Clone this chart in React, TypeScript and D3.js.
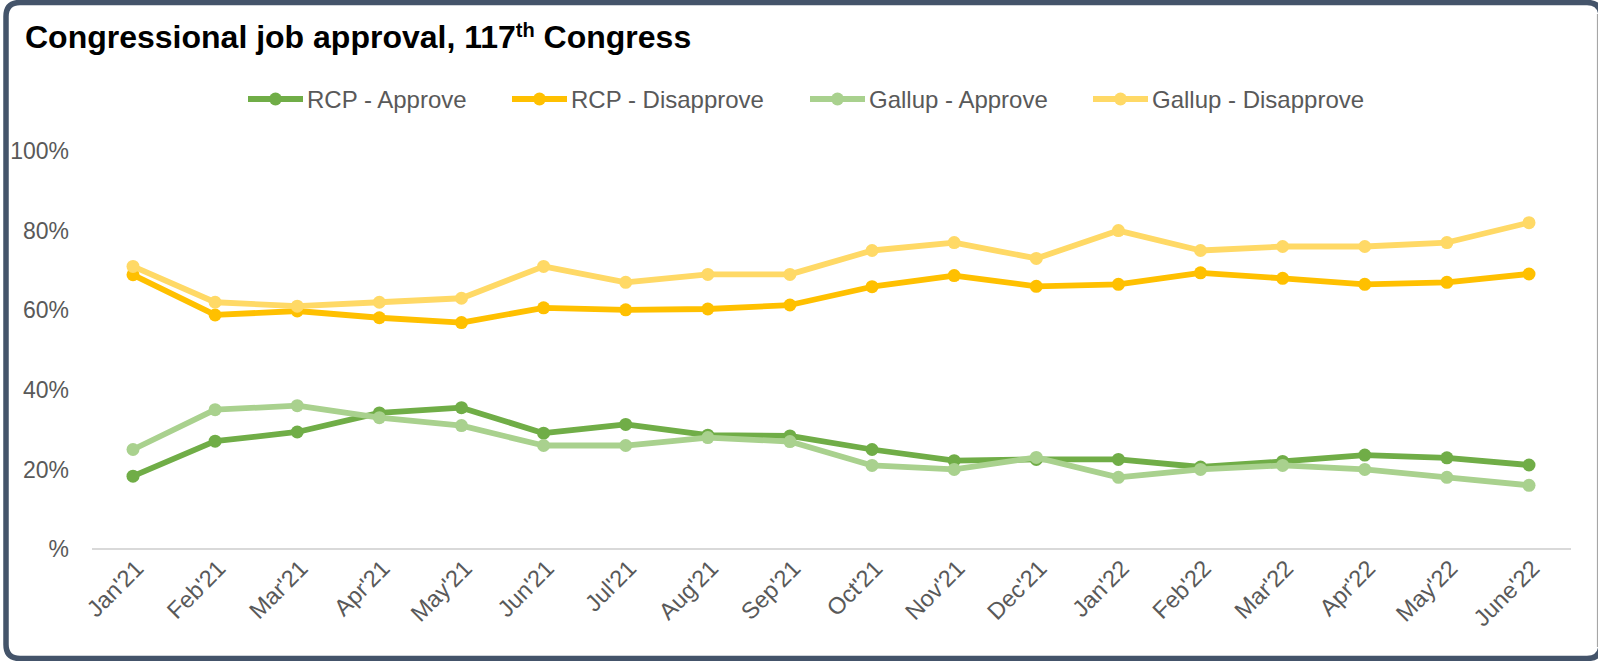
import React from "react";
import * as d3 from "d3";

const months = ["Jan'21", "Feb'21", "Mar'21", "Apr'21", "May'21", "Jun'21", "Jul'21", "Aug'21", "Sep'21",
  "Oct'21", "Nov'21", "Dec'21", "Jan'22", "Feb'22", "Mar'22", "Apr'22", "May'22", "June'22"];
const rcpApprove = [18.3, 27.1, 29.4, 34.2, 35.5, 29.1, 31.3, 28.6, 28.4, 25.0, 22.2, 22.5, 22.5, 20.6, 22.0, 23.6, 22.9, 21.1];
const rcpDisapprove = [68.9, 58.8, 59.8, 58.1, 56.9, 60.6, 60.1, 60.3, 61.3, 65.9, 68.7, 66.0, 66.5, 69.4, 68.0, 66.5, 67.0, 69.1];
const gallupApprove = [25, 35, 36, 33, 31, 26, 26, 28, 27, 21, 20, 23, 18, 20, 21, 20, 18, 16];
const gallupDisapprove = [71, 62, 61, 62, 63, 71, 67, 69, 69, 75, 77, 73, 80, 75, 76, 76, 77, 82];
const yTicks = [0, 20, 40, 60, 80, 100];

interface Series { name: string; color: string; values: number[] }
const series: Series[] = [
  { name: "RCP - Approve", color: "#70AD47", values: rcpApprove },
  { name: "RCP - Disapprove", color: "#FFC000", values: rcpDisapprove },
  { name: "Gallup - Approve", color: "#A9D18E", values: gallupApprove },
  { name: "Gallup - Disapprove", color: "#FFD966", values: gallupDisapprove },
];

const W = 1598;
const H = 661;
const FONT = "'Liberation Sans', Arial, sans-serif";

const App = () => {
  const svgRef = React.useRef<SVGSVGElement>(null);

  React.useEffect(() => {
    const svg = d3.select(svgRef.current);
    svg.selectAll("*").remove();

    // card border: heavy on top/left/bottom, thin on the right
    const r = 14, x0 = 6, y0 = 2.5, x1 = 1601, y1 = 658.5;
    svg.append("path")
      .attr("d", `M${x0 + r},${y0} H${x1 - r} Q${x1},${y0} ${x1},${y0 + r} V${y1 - r} Q${x1},${y1} ${x1 - r},${y1} H${x0 + r} Q${x0},${y1} ${x0},${y1 - r} V${y0 + r} Q${x0},${y0} ${x0 + r},${y0} Z`)
      .attr("fill", "#fff")
      .attr("stroke", "#44546A")
      .attr("stroke-width", 5.5);
    svg.append("line")
      .attr("x1", 1597.5).attr("x2", 1597.5).attr("y1", 14).attr("y2", 647)
      .attr("stroke", "#A6A6A6").attr("stroke-width", 1.2);

    // title
    const title = svg.append("text")
      .attr("x", 25).attr("y", 48)
      .attr("font-family", FONT).attr("font-size", 32).attr("font-weight", "bold")
      .attr("fill", "#000");
    title.append("tspan").text("Congressional job approval, 117");
    title.append("tspan").attr("font-size", 20).attr("dy", -11).text("th");
    title.append("tspan").attr("dy", 11).text(" Congress");

    const xScale = d3.scalePoint<string>().domain(months).range([133, 1529]);
    const yScale = d3.scaleLinear().domain([0, 100]).range([549, 151]);

    // baseline
    svg.append("line")
      .attr("x1", 92).attr("x2", 1571)
      .attr("y1", yScale(0)).attr("y2", yScale(0))
      .attr("stroke", "#D9D9D9").attr("stroke-width", 2);

    // y labels
    svg.append("g").selectAll("text")
      .data(yTicks)
      .enter()
      .append("text")
      .attr("x", 69)
      .attr("y", (d) => yScale(d))
      .attr("dy", "0.36em")
      .attr("text-anchor", "end")
      .attr("font-family", FONT).attr("font-size", 23).attr("fill", "#595959")
      .text((d) => (d === 0 ? "%" : `${d}%`));

    // x labels
    svg.append("g").selectAll("text")
      .data(months)
      .enter()
      .append("text")
      .attr("transform", (d) => `translate(${(xScale(d) as number) + 12},${yScale(0) + 21}) rotate(-45)`)
      .attr("text-anchor", "end")
      .attr("font-family", FONT).attr("font-size", 23.5).attr("fill", "#595959")
      .text((d) => d);

    // lines and markers
    const line = d3.line<number>()
      .x((d, i) => xScale(months[i]) as number)
      .y((d) => yScale(d));
    series.forEach((s) => {
      const g = svg.append("g");
      g.append("path")
        .attr("d", line(s.values))
        .attr("fill", "none")
        .attr("stroke", s.color)
        .attr("stroke-width", 5.8)
        .attr("stroke-linejoin", "round");
      g.selectAll("circle")
        .data(s.values)
        .enter()
        .append("circle")
        .attr("cx", (d, i) => xScale(months[i]) as number)
        .attr("cy", (d) => yScale(d))
        .attr("r", 6.5)
        .attr("fill", s.color);
    });

    // legend
    const legendX = [248, 512, 810, 1093];
    const legendY = 99;
    series.forEach((s, i) => {
      const g = svg.append("g").attr("transform", `translate(${legendX[i]},${legendY})`);
      g.append("line").attr("x1", 0).attr("x2", 55).attr("y1", 0).attr("y2", 0)
        .attr("stroke", s.color).attr("stroke-width", 5.8);
      g.append("circle").attr("cx", 27.5).attr("cy", 0).attr("r", 6.5).attr("fill", s.color);
      g.append("text")
        .attr("x", 59).attr("y", 0).attr("dy", "0.36em")
        .attr("font-family", FONT).attr("font-size", 24).attr("fill", "#595959")
        .text(s.name);
    });
  }, []);

  return (
    <svg ref={svgRef} width={W} height={H}
      style={{ position: "absolute", left: 0, top: 0, display: "block" }} />
  );
};

export default App;
